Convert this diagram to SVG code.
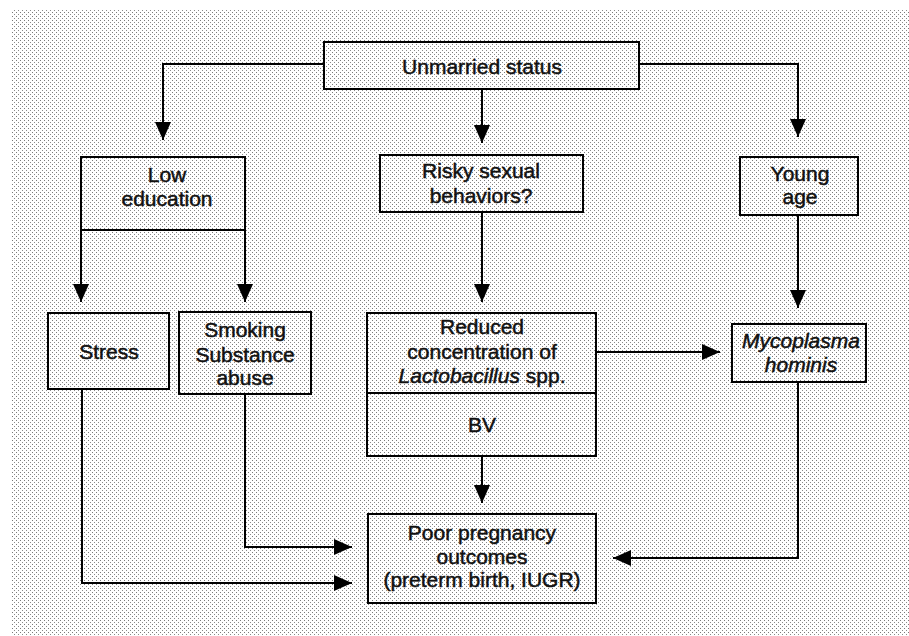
<svg xmlns="http://www.w3.org/2000/svg" width="909" height="636" viewBox="0 0 909 636">
<defs>
<pattern id="dots" x="0" y="0" width="4" height="4" patternUnits="userSpaceOnUse">
<rect width="4" height="4" fill="#ffffff"/>
<rect x="0" y="0" width="1" height="1" fill="#7a7a7a"/>
<rect x="2" y="2" width="1" height="1" fill="#8a8a8a"/>
</pattern>
<marker id="ah" markerUnits="userSpaceOnUse" markerWidth="18" markerHeight="16" refX="18" refY="8" orient="auto">
<path d="M0,0 L18,8 L0,16 Z" fill="#000"/>
</marker>
</defs>
<style>
.box{fill:none;stroke:#000;stroke-width:2}
.t{font-family:"Liberation Sans",Arial,sans-serif;font-size:21px;fill:#111;stroke:#111;stroke-width:0.5;text-anchor:middle}
.i{font-style:italic}
.c{fill:none;stroke:#000;stroke-width:2;marker-end:url(#ah)}
</style>
<rect x="11" y="9" width="898" height="627" fill="url(#dots)"/>

<g id="connectors">
<path class="c" d="M324,64 H163 V140"/>
<path class="c" d="M482,89 V143"/>
<path class="c" d="M639,64 H798 V137"/>
<path class="c" d="M81,230 V302"/>
<path class="c" d="M245,230 V302"/>
<path class="c" d="M482,212 V302"/>
<path class="c" d="M596,352 H720"/>
<path class="c" d="M798,215 V308"/>
<path class="c" d="M482,456 V503"/>
<path class="c" d="M245,394 V547 H352"/>
<path class="c" d="M82,389 V583 H352"/>
<path class="c" d="M798,382 V558 H613"/>
</g>

<g id="unmarried">
<rect class="box" x="324" y="42" width="315" height="47"/>
<text class="t" x="482" y="74">Unmarried status</text>
</g>
<g id="low-education">
<rect class="box" x="81" y="157" width="164" height="73"/>
<text class="t" x="167" y="182">Low</text>
<text class="t" x="167" y="206">education</text>
</g>
<g id="risky">
<rect class="box" x="380" y="155" width="203" height="57"/>
<text class="t" x="481" y="178">Risky sexual</text>
<text class="t" x="481" y="203">behaviors?</text>
</g>
<g id="young-age">
<rect class="box" x="740" y="157" width="118" height="58"/>
<text class="t" x="800" y="181">Young</text>
<text class="t" x="800" y="204">age</text>
</g>
<g id="stress">
<rect class="box" x="48" y="313" width="121" height="76"/>
<text class="t" x="109" y="359">Stress</text>
</g>
<g id="smoking">
<rect class="box" x="179" y="312" width="132" height="82"/>
<text class="t" x="245" y="337">Smoking</text>
<text class="t" x="245" y="362">Substance</text>
<text class="t" x="245" y="385">abuse</text>
</g>
<g id="lactobacillus">
<rect class="box" x="367" y="313" width="229" height="143"/>
<line x1="367" y1="393" x2="596" y2="393" stroke="#000" stroke-width="2"/>
<text class="t" x="482" y="334">Reduced</text>
<text class="t" x="482" y="359">concentration of</text>
<text class="t" x="482" y="383"><tspan class="i">Lactobacillus</tspan> spp.</text>
<text class="t" x="482" y="432">BV</text>
</g>
<g id="mycoplasma">
<rect class="box" x="732" y="324" width="134" height="58"/>
<text class="t i" x="801" y="348">Mycoplasma</text>
<text class="t i" x="801" y="372">hominis</text>
</g>
<g id="outcomes">
<rect class="box" x="368" y="514" width="228" height="89"/>
<text class="t" x="482" y="540">Poor pregnancy</text>
<text class="t" x="482" y="564">outcomes</text>
<text class="t" x="482" y="587">(preterm birth, IUGR)</text>
</g>
</svg>
